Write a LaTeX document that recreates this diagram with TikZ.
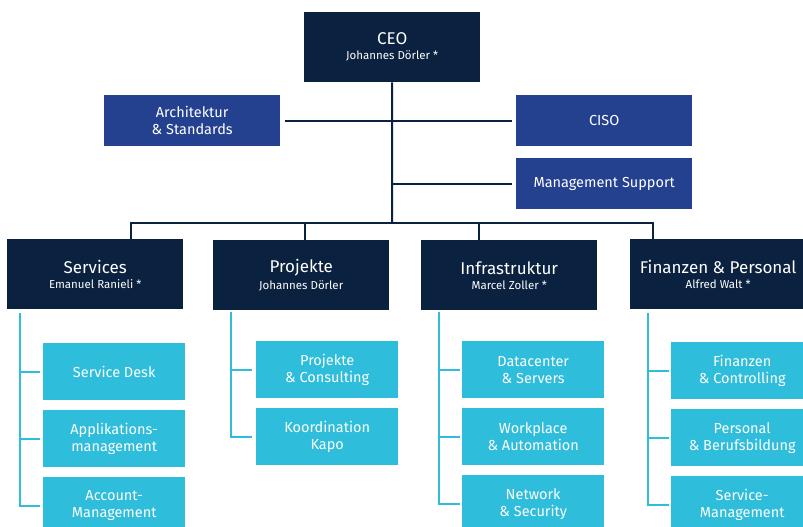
\documentclass[tikz,border=0pt]{standalone}
\usepackage{fontspec}
\setmainfont{Fira Sans}
\usepackage{tikz}
\usetikzlibrary{positioning,calc}

\definecolor{navy}{HTML}{0B2140}
\definecolor{royal}{HTML}{23418F}
\definecolor{sky}{HTML}{2EBDDB}

\tikzset{
  headbox/.style={fill=navy, text=white, anchor=north west, inner sep=0pt,
    minimum width=176pt, minimum height=70pt, align=center},
  staffbox/.style={fill=royal, text=white, anchor=north west, inner sep=0pt,
    minimum width=176pt, minimum height=51pt, align=center, font=\fontsize{14.5}{17}\selectfont},
  unitbox/.style={fill=sky, text=white, anchor=north west, inner sep=0pt,
    minimum width=142pt, minimum height=57pt, align=center, font=\fontsize{14.5}{17}\selectfont},
  navyline/.style={draw=navy, line width=2pt},
  skyline/.style={draw=sky, line width=2pt}
}
\newcommand{\headtitle}[2]{{\fontsize{17}{17}\selectfont #1}\\[3pt]{\fontsize{11.5}{12}\selectfont #2}}

\begin{document}
\begin{tikzpicture}[x=1pt,y=-1pt]
    \useasboundingbox (0,0) rectangle (803,527);
    \clip (0,0) rectangle (803,527);

    % Top
    \node[headbox] (ceo) at (304,12) {\headtitle{CEO}{Johannes Dörler *}};
    \node[staffbox] (arch) at (104,95) {Architektur\\\& Standards};
    \node[staffbox] (ciso) at (516,95) {CISO};
    \node[staffbox] (mgmt) at (516,158) {Management Support};

    % Departments
    \node[headbox] (services) at (7,239) {\headtitle{Services}{Emanuel Ranieli *}};
    \node[headbox] (projekte) at (213,240) {\headtitle{Projekte}{Johannes Dörler}};
    \node[headbox] (infra) at (421,240) {\headtitle{Infrastruktur}{Marcel Zoller *}};
    \node[headbox] (finanzen) at (630,239) {\headtitle{Finanzen \& Personal}{Alfred Walt *}};

    % Units
    \node[unitbox] (sdesk) at (43,343) {Service Desk};
    \node[unitbox] (appl) at (43,410) {Applikations-\\management};
    \node[unitbox] (acct) at (43,477) {Account-\\Management};
    \node[unitbox] (pcons) at (256,341) {Projekte\\\& Consulting};
    \node[unitbox] (kapo) at (256,408) {Koordination\\Kapo};
    \node[unitbox] (dcs) at (462,341) {Datacenter\\\& Servers};
    \node[unitbox] (wpa) at (462,408) {Workplace\\\& Automation};
    \node[unitbox] (nets) at (462,475) {Network\\\& Security};
    \node[unitbox] (fico) at (671,342) {Finanzen\\\& Controlling};
    \node[unitbox] (pers) at (671,409) {Personal\\\& Berufsbildung};
    \node[unitbox] (smgmt) at (671,476) {Service-\\Management};

    % Bus
    \coordinate (bus) at (392,223);
    \coordinate (d1) at (131,223);
    \coordinate (d2) at (305,223);
    \coordinate (d3) at (479,223);
    \coordinate (d4) at (653,223);

    \draw[navyline] (ceo.south) -- (bus);
    \draw[navyline, shorten <=5pt] (arch.east) -- (ceo.south |- arch.east);
    \draw[navyline, shorten >=4pt] (ceo.south |- ciso.west) -- (ciso.west);
    \draw[navyline, shorten >=4pt] (ceo.south |- mgmt.west) -- (mgmt.west);
    \draw[navyline] (d1 |- services.north) -- (d1) -- (d4) -- (d4 |- finanzen.north);
    \draw[navyline] (d2) -- (d2 |- projekte.north);
    \draw[navyline] (d3) -- (d3 |- infra.north);

    % Unit lines
    \draw[skyline, shorten >=3pt] ($(services.south west)+(13,4)$) |- (acct.west);
    \draw[skyline, shorten >=3pt] (20,0 |- sdesk.west) -- (sdesk.west);
    \draw[skyline, shorten >=3pt] (20,0 |- appl.west) -- (appl.west);
    \draw[skyline, shorten >=4pt] ($(projekte.south west)+(18,2)$) |- (kapo.west);
    \draw[skyline, shorten >=4pt] (231,0 |- pcons.west) -- (pcons.west);
    \draw[skyline, shorten >=2pt] ($(infra.south west)+(18,2)$) |- (nets.west);
    \draw[skyline, shorten >=2pt] (439,0 |- dcs.west) -- (dcs.west);
    \draw[skyline, shorten >=2pt] (439,0 |- wpa.west) -- (wpa.west);
    \draw[skyline, shorten >=2pt] ($(finanzen.south west)+(18,4)$) |- (smgmt.west);
    \draw[skyline, shorten >=2pt] (648,0 |- fico.west) -- (fico.west);
    \draw[skyline, shorten >=2pt] (648,0 |- pers.west) -- (pers.west);
\end{tikzpicture}
\end{document}
